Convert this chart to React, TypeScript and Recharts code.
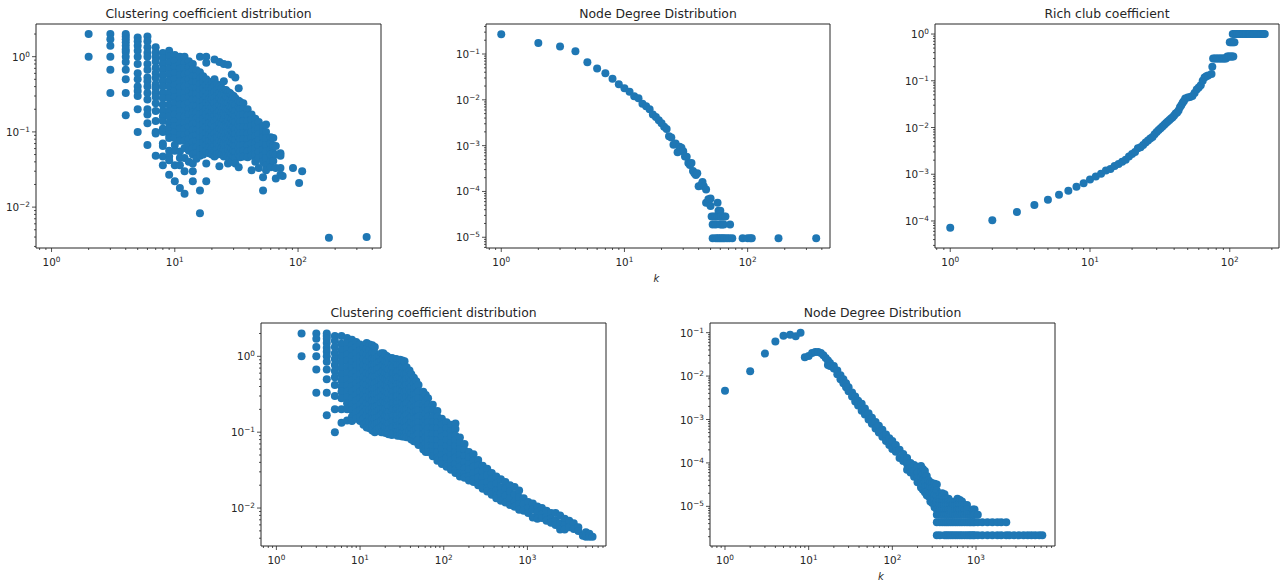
import React from 'react';
import { ScatterChart, Scatter, XAxis, YAxis, ReferenceArea } from 'recharts';

type Column = [number, number[]];

const BLUE = '#1f77b4';
const INK = '#262626';

// clustering coefficient, small graph: [degree, values seen in that column]
const clusterSmall: Column[] = [
  [2, [2, 1]],
  [3, [2, 1.7, 1.4, 1, 0.67, 0.33]],
  [4, [2, 1.85, 1.7, 1.55, 1.4, 1.25, 1.15, 1, 0.85, 0.67, 0.5, 0.33, 0.167]],
  [5, [1.8, 1.6, 1.4, 1.2, 1, 0.8, 0.6, 0.5, 0.4, 0.35, 0.3, 0.2, 0.1]],
  [6, [1.85, 1.6, 1.33, 1.13, 1, 0.8, 0.67, 0.53, 0.47, 0.4, 0.33, 0.27, 0.2, 0.17, 0.13, 0.067]],
  [7, [1.33, 1.14, 1, 0.86, 0.71, 0.6, 0.52, 0.43, 0.38, 0.33, 0.29, 0.24, 0.19, 0.14, 0.1, 0.095, 0.048]],
  [8, [1.12, 0.96, 0.8, 0.67, 0.56, 0.47, 0.4, 0.33, 0.28, 0.23, 0.19, 0.16, 0.14, 0.11, 0.1, 0.07, 0.065, 0.047, 0.036]],
  [9, [1.2, 1, 0.83, 0.69, 0.58, 0.48, 0.4, 0.33, 0.28, 0.23, 0.19, 0.16, 0.13, 0.11, 0.092, 0.083, 0.056, 0.047, 0.042, 0.027]],
  [10, [1.05, 0.87, 0.73, 0.6, 0.5, 0.42, 0.35, 0.29, 0.24, 0.2, 0.17, 0.14, 0.12, 0.1, 0.083, 0.067, 0.056, 0.036, 0.022]],
  [11, [1, 0.82, 0.69, 0.57, 0.47, 0.39, 0.33, 0.27, 0.23, 0.19, 0.16, 0.13, 0.11, 0.091, 0.076, 0.055, 0.045, 0.036, 0.018]],
  [12, [1, 0.84, 0.7, 0.58, 0.48, 0.4, 0.33, 0.28, 0.23, 0.19, 0.16, 0.13, 0.11, 0.09, 0.076, 0.061, 0.045, 0.03, 0.015]],
  [13, [0.87, 0.72, 0.6, 0.5, 0.42, 0.35, 0.29, 0.24, 0.2, 0.17, 0.14, 0.115, 0.096, 0.08, 0.067, 0.056, 0.04]],
  [14, [0.8, 0.67, 0.55, 0.46, 0.38, 0.32, 0.27, 0.22, 0.18, 0.15, 0.125, 0.105, 0.087, 0.073, 0.06, 0.05, 0.038, 0.03, 0.022]],
  [15, [0.66, 0.55, 0.46, 0.38, 0.32, 0.27, 0.22, 0.18, 0.15, 0.13, 0.105, 0.09, 0.075, 0.062, 0.052, 0.044]],
  [16, [1, 0.62, 0.51, 0.43, 0.36, 0.3, 0.25, 0.21, 0.17, 0.14, 0.12, 0.1, 0.083, 0.07, 0.058, 0.048, 0.0166, 0.0083]],
  [17, [0.55, 0.46, 0.38, 0.32, 0.26, 0.22, 0.18, 0.15, 0.125, 0.105, 0.087, 0.072, 0.06, 0.05]],
  [18, [1, 0.83, 0.5, 0.42, 0.35, 0.29, 0.24, 0.2, 0.17, 0.14, 0.116, 0.097, 0.08, 0.067, 0.056, 0.038, 0.022]],
  [19, [0.46, 0.39, 0.33, 0.27, 0.225, 0.19, 0.155, 0.13, 0.11, 0.09, 0.075, 0.063, 0.052]],
  [20, [0.46, 0.38, 0.32, 0.27, 0.22, 0.18, 0.15, 0.125, 0.105, 0.087, 0.072, 0.06, 0.05]],
  [21, [0.92, 0.5, 0.41, 0.34, 0.28, 0.24, 0.2, 0.165, 0.14, 0.115, 0.095, 0.08, 0.066, 0.055, 0.047]],
  [22, [0.43, 0.36, 0.3, 0.25, 0.21, 0.175, 0.145, 0.12, 0.1, 0.085, 0.07, 0.058, 0.05]],
  [23, [0.85, 0.4, 0.33, 0.28, 0.23, 0.19, 0.16, 0.13, 0.11, 0.092, 0.077, 0.064, 0.053, 0.035]],
  [24, [0.38, 0.31, 0.26, 0.215, 0.18, 0.15, 0.125, 0.105, 0.088, 0.073, 0.06, 0.05]],
  [25, [0.8, 0.47, 0.36, 0.3, 0.25, 0.21, 0.175, 0.145, 0.12, 0.1, 0.084, 0.07, 0.058, 0.047]],
  [26, [0.36, 0.29, 0.24, 0.2, 0.165, 0.135, 0.115, 0.095, 0.08, 0.066, 0.055, 0.048]],
  [27, [0.78, 0.34, 0.28, 0.24, 0.2, 0.165, 0.14, 0.115, 0.095, 0.08, 0.066, 0.055, 0.046, 0.038]],
  [28, [0.33, 0.27, 0.22, 0.185, 0.155, 0.13, 0.108, 0.09, 0.075, 0.062, 0.052, 0.043]],
  [29, [0.58, 0.31, 0.26, 0.21, 0.18, 0.15, 0.125, 0.105, 0.087, 0.072, 0.06, 0.05, 0.04]],
  [30, [0.3, 0.245, 0.2, 0.17, 0.14, 0.118, 0.098, 0.082, 0.068, 0.057, 0.047]],
  [31, [0.53, 0.28, 0.23, 0.19, 0.16, 0.135, 0.11, 0.093, 0.078, 0.065, 0.054, 0.045, 0.038]],
  [33, [0.38, 0.26, 0.215, 0.18, 0.15, 0.125, 0.105, 0.087, 0.072, 0.06, 0.05, 0.034]],
  [34, [0.25, 0.2, 0.165, 0.138, 0.115, 0.095, 0.08, 0.066, 0.055, 0.046]],
  [36, [0.24, 0.2, 0.17, 0.14, 0.115, 0.096, 0.08, 0.067, 0.056, 0.047]],
  [39, [0.2, 0.165, 0.14, 0.115, 0.095, 0.08, 0.066, 0.055, 0.046]],
  [42, [0.17, 0.145, 0.12, 0.1, 0.083, 0.07, 0.058, 0.048, 0.031]],
  [45, [0.15, 0.125, 0.105, 0.087, 0.072, 0.06, 0.05, 0.04]],
  [48, [0.135, 0.11, 0.093, 0.078, 0.065, 0.054, 0.045, 0.033]],
  [52, [0.12, 0.1, 0.085, 0.07, 0.058, 0.048, 0.04, 0.025, 0.0166]],
  [55, [0.125, 0.1, 0.082, 0.067, 0.055, 0.045, 0.036, 0.031]],
  [60, [0.085, 0.07, 0.058, 0.05, 0.04, 0.034]],
  [63, [0.083, 0.065, 0.052, 0.041]],
  [66, [0.065, 0.05, 0.033, 0.024]],
  [72, [0.052, 0.048, 0.033, 0.027]],
  [75, [0.026]],
  [91, [0.033]],
  [102, [0.021]],
  [108, [0.03]],
  [178, [0.0039]],
  [360, [0.004]],
];

// degree distribution, small graph
const degreeSmall: Column[] = [
  [1, [0.27]], [2, [0.175]], [3, [0.145]], [4, [0.115]], [5, [0.066]], [6, [0.048]], [7, [0.038]], [8, [0.029]],
  [9, [0.022]], [10, [0.018]], [11, [0.015]], [12, [0.012]], [13, [0.0108]], [14, [0.0082]], [15, [0.0072]],
  [16, [0.0062]], [17, [0.0048]], [18, [0.0042]], [19, [0.0036]], [20, [0.0031]], [21, [0.0026]], [22, [0.0023]],
  [23, [0.0016]], [24, [0.0015]], [25, [0.00105]], [26, [0.00112]], [27, [0.00072]], [28, [0.00095]], [29, [0.0009]],
  [30, [0.00075]], [31, [0.00058]], [32, [0.00057]], [33, [0.00042]], [34, [0.00038]], [35, [0.00042]], [36, [0.00028]],
  [37, [0.00025]], [38, [0.00023]], [39, [0.00025]], [40, [0.00013]], [42, [0.00014]], [43, [0.00016]], [44, [0.00013]],
  [46, [0.00011, 0.000057]], [48, [0.000057, 0.000068]], [50, [0.00007, 0.000048]], [51, [0.0000285]],
  [52, [0.000019, 0.0000095]], [53, [0.0000285]], [55, [0.0000285, 0.000019, 0.0000095]], [57, [0.000057, 0.0000285, 0.0000095]],
  [58, [0.000038]], [59, [0.0000285, 0.0000095]], [60, [0.000038, 0.000019]], [61, [0.0000285, 0.0000095]], [62, [0.000019]],
  [63, [0.0000095]], [64, [0.0000285, 0.000019]], [65, [0.0000095]], [66, [0.0000285]], [68, [0.0000095]], [71, [0.0000095]],
  [72, [0.000019]], [75, [0.0000095]], [91, [0.0000095]], [100, [0.0000095]], [105, [0.0000095]], [108, [0.0000095]],
  [178, [0.0000095]], [360, [0.0000095]],
];

// rich club curve
const richK = [1, 2, 3, 4, 5, 6, 7, 8, 9, 10, 11, 12, 13, 14, 15, 16, 17, 18, 19, 20, 21, 22, 23, 24, 25, 26, 27, 28, 29, 30,
  31, 32, 33, 34, 35, 36, 37, 38, 39, 40, 41, 42, 43, 44, 45, 46, 47, 48, 50, 52, 54, 56, 58, 60, 62, 64, 66, 68, 70, 74, 75,
  76, 78, 80, 82, 84, 86, 88, 90, 92, 94, 96, 98, 100, 102, 104, 106, 100, 102, 104, 106, 108,
  105, 108, 111, 114, 117, 120, 123, 126, 129, 132, 135, 138, 141, 144, 147, 150, 153, 156, 159, 162, 165, 168, 171, 174, 178];
const richPhi = [7.2e-5, 1.03e-4, 1.55e-4, 2.2e-4, 2.85e-4, 3.65e-4, 4.45e-4, 5.4e-4, 6.4e-4, 7.7e-4, 9e-4, 1.03e-3, 1.2e-3, 1.3e-3,
  1.5e-3, 1.65e-3, 1.85e-3, 2.05e-3, 2.4e-3, 2.7e-3, 3e-3, 3.6e-3, 3.8e-3, 4.2e-3, 4.8e-3, 5.3e-3, 5.8e-3, 6.3e-3, 7.2e-3, 8e-3,
  8.8e-3, 9.6e-3, 0.0105, 0.0115, 0.0125, 0.0135, 0.0145, 0.0155, 0.0165, 0.018, 0.02, 0.021, 0.023, 0.027, 0.03, 0.034, 0.037, 0.042,
  0.044, 0.045, 0.047, 0.055, 0.065, 0.072, 0.08, 0.1, 0.118, 0.125, 0.13, 0.14, 0.2,
  0.3, 0.3, 0.3, 0.3, 0.3, 0.3, 0.3, 0.3, 0.3, 0.3, 0.33, 0.33, 0.33, 0.33, 0.33, 0.33, 0.67, 0.67, 0.67, 0.67, 0.67,
  1, 1, 1, 1, 1, 1, 1, 1, 1, 1, 1, 1, 1, 1, 1, 1, 1, 1, 1, 1, 1, 1, 1, 1, 1];

// clustering coefficient, large graph
const clusterLarge: Column[] = [
  [2, [2, 1]],
  [3, [2, 1.7, 1.33, 1, 0.67, 0.33]],
  [4, [2, 1.85, 1.7, 1.5, 1.3, 1.15, 1, 0.85, 0.67, 0.5, 0.33, 0.167]],
  [5, [1.85, 1.6, 1.33, 1.1, 0.92, 0.77, 0.64, 0.53, 0.42, 0.3, 0.2, 0.1]],
  [6, [1.85, 1.46, 1.2, 1, 0.84, 0.7, 0.58, 0.48, 0.4, 0.34, 0.28, 0.2, 0.133]],
  [7, [1.75, 1.5, 1.25, 1.05, 0.88, 0.72, 0.6, 0.5, 0.42, 0.35, 0.29, 0.24, 0.2, 0.143]],
  [8, [1.66, 1.4, 1.2, 1, 0.84, 0.7, 0.58, 0.48, 0.4, 0.34, 0.28, 0.23, 0.195, 0.16, 0.14]],
  [9, [1.55, 1.33, 1.1, 0.92, 0.77, 0.64, 0.53, 0.44, 0.37, 0.31, 0.26, 0.21, 0.18, 0.15]],
  [10, [1.43, 1.2, 1, 0.84, 0.7, 0.58, 0.48, 0.4, 0.34, 0.28, 0.23, 0.195, 0.16, 0.14]],
  [11, [1.33, 1.1, 0.92, 0.77, 0.64, 0.53, 0.44, 0.37, 0.31, 0.26, 0.21, 0.18, 0.15, 0.125]],
  [12, [1.5, 1.25, 1.05, 0.88, 0.73, 0.6, 0.5, 0.42, 0.35, 0.29, 0.24, 0.2, 0.165, 0.135, 0.115]],
  [13, [1.43, 1.2, 1, 0.84, 0.7, 0.58, 0.48, 0.4, 0.34, 0.28, 0.23, 0.195, 0.16, 0.135, 0.113]],
  [14, [1.4, 1.1, 0.92, 0.77, 0.64, 0.53, 0.44, 0.37, 0.31, 0.26, 0.21, 0.18, 0.15, 0.125, 0.105]],
  [15, [1.33, 1.1, 0.92, 0.77, 0.64, 0.53, 0.44, 0.37, 0.31, 0.26, 0.21, 0.18, 0.15, 0.125, 0.1]],
  [16, [0.96, 0.8, 0.67, 0.55, 0.46, 0.385, 0.32, 0.265, 0.22, 0.185, 0.155, 0.13, 0.108]],
  [17, [1, 0.84, 0.7, 0.58, 0.48, 0.4, 0.34, 0.28, 0.23, 0.195, 0.16, 0.135, 0.113]],
  [18, [1.1, 0.88, 0.73, 0.61, 0.5, 0.42, 0.35, 0.29, 0.24, 0.2, 0.17, 0.14, 0.118, 0.1]],
  [19, [1.1, 0.92, 0.77, 0.64, 0.53, 0.44, 0.37, 0.31, 0.26, 0.21, 0.18, 0.15, 0.125, 0.1]],
  [20, [1.03, 0.87, 0.73, 0.6, 0.5, 0.42, 0.35, 0.29, 0.24, 0.2, 0.165, 0.14, 0.118, 0.098]],
  [21, [1, 0.84, 0.7, 0.58, 0.48, 0.4, 0.34, 0.28, 0.23, 0.195, 0.16, 0.135, 0.113, 0.097]],
  [22, [0.95, 0.8, 0.67, 0.55, 0.46, 0.38, 0.32, 0.265, 0.22, 0.185, 0.155, 0.128, 0.107, 0.094]],
  [24, [0.95, 0.77, 0.64, 0.53, 0.44, 0.37, 0.31, 0.26, 0.21, 0.18, 0.15, 0.125, 0.104, 0.092]],
  [25, [0.93, 0.72, 0.6, 0.5, 0.41, 0.345, 0.29, 0.24, 0.2, 0.165, 0.14, 0.116, 0.097]],
  [27, [0.92, 0.84, 0.7, 0.58, 0.48, 0.4, 0.34, 0.28, 0.23, 0.195, 0.16, 0.135, 0.113, 0.095]],
  [28, [0.9, 0.76, 0.63, 0.52, 0.43, 0.36, 0.3, 0.25, 0.205, 0.17, 0.145, 0.12, 0.1, 0.09]],
  [30, [0.9, 0.77, 0.64, 0.53, 0.44, 0.37, 0.31, 0.26, 0.21, 0.18, 0.15, 0.125, 0.104, 0.09]],
  [32, [0.88, 0.73, 0.6, 0.5, 0.415, 0.35, 0.29, 0.24, 0.2, 0.167, 0.14, 0.117, 0.097, 0.088]],
  [34, [0.86, 0.7, 0.58, 0.48, 0.4, 0.34, 0.28, 0.23, 0.195, 0.16, 0.135, 0.113, 0.095, 0.088]],
  [36, [0.72, 0.6, 0.5, 0.42, 0.35, 0.29, 0.24, 0.2, 0.17, 0.14, 0.118, 0.098, 0.086]],
  [39, [0.65, 0.53, 0.44, 0.37, 0.31, 0.26, 0.21, 0.18, 0.15, 0.125, 0.104, 0.085]],
  [41, [0.58, 0.48, 0.4, 0.335, 0.28, 0.23, 0.195, 0.16, 0.135, 0.113, 0.095, 0.08]],
  [44, [0.52, 0.44, 0.37, 0.31, 0.26, 0.21, 0.18, 0.15, 0.125, 0.104, 0.087, 0.076]],
  [47, [0.47, 0.39, 0.32, 0.27, 0.225, 0.19, 0.155, 0.13, 0.11, 0.09, 0.075]],
  [50, [0.42, 0.34, 0.28, 0.23, 0.195, 0.16, 0.135, 0.113, 0.095, 0.079, 0.068]],
  [57, [0.34, 0.28, 0.23, 0.195, 0.16, 0.135, 0.113, 0.095, 0.079, 0.066, 0.059]],
  [61, [0.31, 0.255, 0.21, 0.175, 0.146, 0.122, 0.102, 0.085, 0.071, 0.06, 0.055]],
  [65, [0.28, 0.23, 0.195, 0.16, 0.135, 0.113, 0.095, 0.079, 0.066, 0.055]],
  [74, [0.23, 0.195, 0.16, 0.135, 0.113, 0.095, 0.079, 0.066, 0.055, 0.048]],
  [84, [0.19, 0.16, 0.135, 0.113, 0.095, 0.079, 0.066, 0.055, 0.046, 0.042]],
  [95, [0.15, 0.125, 0.104, 0.087, 0.072, 0.06, 0.05, 0.042, 0.038]],
  [108, [0.135, 0.113, 0.095, 0.079, 0.066, 0.055, 0.046, 0.038, 0.035]],
  [122, [0.125, 0.104, 0.087, 0.072, 0.06, 0.05, 0.042, 0.035, 0.032]],
  [138, [0.13, 0.11, 0.09, 0.079, 0.066, 0.055, 0.046, 0.038, 0.032, 0.029]],
  [156, [0.085, 0.072, 0.06, 0.05, 0.042, 0.035, 0.029, 0.026]],
  [177, [0.07, 0.058, 0.048, 0.04, 0.033, 0.028, 0.025]],
  [200, [0.055, 0.046, 0.038, 0.032, 0.026, 0.023]],
  [227, [0.051, 0.042, 0.035, 0.029, 0.024, 0.022]],
  [258, [0.043, 0.036, 0.03, 0.025, 0.021, 0.02]],
  [292, [0.036, 0.03, 0.025, 0.021, 0.018]],
  [331, [0.033, 0.027, 0.022, 0.018, 0.0165]],
  [375, [0.029, 0.024, 0.02, 0.016, 0.015]],
  [425, [0.026, 0.021, 0.017, 0.0145, 0.0135]],
  [482, [0.024, 0.019, 0.0155, 0.0125]],
  [546, [0.022, 0.018, 0.0145, 0.0118]],
  [619, [0.02, 0.0165, 0.0135, 0.011]],
  [702, [0.019, 0.015, 0.0122, 0.0104]],
  [796, [0.017, 0.0138, 0.0112, 0.0095]],
  [902, [0.0135, 0.0112, 0.0092]],
  [1023, [0.012, 0.01, 0.0086]],
  [1160, [0.0115, 0.0095, 0.0075]],
  [1315, [0.0105, 0.0088, 0.0072]],
  [1490, [0.01, 0.0082, 0.0074]],
  [1690, [0.0092, 0.0076, 0.0068]],
  [1915, [0.0086, 0.0072, 0.0064]],
  [2170, [0.0086, 0.0068, 0.006]],
  [2460, [0.008, 0.0063, 0.0052]],
  [2790, [0.0072, 0.006, 0.0052]],
  [3160, [0.0068, 0.0056]],
  [3580, [0.0063, 0.0053]],
  [4060, [0.0056, 0.005]],
  [4600, [0.0043]],
  [5000, [0.0048, 0.0042]],
  [5500, [0.0046, 0.0042]],
  [6000, [0.0042]],
];

// degree distribution, large graph: curve then tail rows
const degreeLarge: Column[] = [
  [1, [0.0046]], [2, [0.013]], [3, [0.033]], [4, [0.063]], [5, [0.085]], [6, [0.09]], [7, [0.083]], [8, [0.1]],
  [9, [0.027]], [10, [0.029]], [11, [0.034]], [12, [0.036]], [13, [0.036]], [14, [0.034]], [15, [0.03]], [16, [0.026]],
  [17, [0.023, 0.018]], [18, [0.02, 0.017]], [20, [0.017, 0.015]], [22, [0.0135, 0.011]], [24, [0.0105, 0.0085]],
  [26, [0.0085, 0.0068]], [28, [0.0068, 0.0055]], [30, [0.0055, 0.0045]], [33, [0.0042, 0.0034]], [36, [0.0034, 0.0026]],
  [39, [0.0027, 0.0021]], [43, [0.0023, 0.0016]], [47, [0.0018, 0.0013]], [52, [0.0014, 0.001]], [57, [0.0011, 0.0008]],
  [63, [0.00088, 0.00062]], [69, [0.00072, 0.0005]], [76, [0.00058, 0.0004]], [84, [0.00045, 0.00032]], [92, [0.00037, 0.00026]],
  [100, [0.00032, 0.00021]], [110, [0.00026, 0.00018]], [122, [0.0002, 0.00013]], [135, [0.00016, 0.00011]],
  [150, [0.00013, 0.000095, 0.00007]], [165, [0.0001, 0.000075, 0.00006]], [182, [0.00009, 0.000064, 0.000048]],
  [200, [0.000082, 0.00006, 0.000045, 0.000036]], [220, [0.000085, 0.000062, 0.000045, 0.000032, 0.000027]],
  [232, [0.000072, 0.000055, 0.00004, 0.00003, 0.000024]],
  [245, [0.000065, 0.00005, 0.000038, 0.000028, 0.000021]], [258, [0.00005, 0.000038, 0.000029, 0.000022, 0.000018]],
  [270, [0.00004, 0.00003, 0.000023, 0.000017]], [285, [0.000036, 0.000028, 0.000021, 0.000016, 0.000013]],
  [300, [0.000034, 0.000026, 0.00002, 0.000015, 0.000012]], [320, [0.000033, 0.000024, 0.000018, 0.000014, 0.000011, 0.0000095]],
  [340, [0.000032, 0.000023, 0.000017, 0.000013, 0.0000107, 0.0000085, 0.0000064, 0.0000043, 0.00000215]],
  [370, [0.000019, 0.000015, 0.0000128, 0.0000107, 0.0000085, 0.0000064, 0.0000043, 0.00000215]],
  [395, [0.00002, 0.000017, 0.0000128, 0.0000107, 0.0000085, 0.0000064, 0.0000043]],
  [420, [0.000019, 0.000015, 0.0000128, 0.0000107, 0.0000085, 0.0000064, 0.0000043, 0.00000215]],
  [445, [0.000015, 0.0000128, 0.0000107, 0.0000085, 0.0000064, 0.0000043, 0.00000215]],
  [470, [0.000015, 0.0000128, 0.0000107, 0.0000085, 0.0000064, 0.0000043, 0.00000215]],
  [500, [0.000013, 0.0000107, 0.0000085, 0.0000064, 0.0000043, 0.00000215]],
  [530, [0.000012, 0.0000107, 0.0000085, 0.0000064, 0.0000043, 0.00000215]],
  [565, [0.000013, 0.0000107, 0.0000085, 0.0000064, 0.0000043, 0.00000215]],
  [600, [0.000015, 0.0000128, 0.0000107, 0.0000085, 0.0000064, 0.0000043, 0.00000215]],
  [640, [0.000014, 0.0000128, 0.0000107, 0.0000085, 0.0000064, 0.0000043, 0.00000215]],
  [680, [0.000013, 0.0000107, 0.0000085, 0.0000064, 0.0000043, 0.00000215]],
  [730, [0.0000107, 0.0000085, 0.0000064, 0.0000043, 0.00000215]],
  [780, [0.0000107, 0.0000085, 0.0000064, 0.0000043, 0.00000215]],
  [830, [0.0000064, 0.0000043, 0.00000215]],
  [870, [0.0000064, 0.0000043, 0.00000215]],
  [920, [0.0000085, 0.0000064, 0.0000043, 0.00000215]],
  [960, [0.0000085, 0.0000064, 0.0000043, 0.00000215]],
  [1050, [0.0000064, 0.0000043, 0.00000215]],
  [1190, [0.0000043, 0.00000215]], [1370, [0.0000043, 0.00000215]], [1570, [0.0000043, 0.00000215]],
  [1800, [0.0000043, 0.00000215]], [2000, [0.0000043, 0.00000215]], [2300, [0.0000043, 0.00000215]],
  [2500, [0.00000215]], [2850, [0.00000215]], [3250, [0.00000215]], [3700, [0.00000215]], [4150, [0.00000215]],
  [4600, [0.00000215]], [5100, [0.00000215]], [5700, [0.00000215]], [6200, [0.00000215]],
];

const toPoints = (cols: Column[]) => cols.flatMap(([x, ys]) => ys.map((y) => ({ x, y })));
const zipPoints = (xs: number[], ys: number[]) => xs.map((x, i) => ({ x, y: ys[i] }));

const MINOR = [2, 3, 4, 5, 6, 7, 8, 9];

function logTicks(domain: number[], decades: number[]) {
  const all: number[] = [];
  for (let d = decades[0] - 1; d <= decades[decades.length - 1] + 1; d++) {
    all.push(10 ** d);
    MINOR.forEach((m) => all.push(m * 10 ** d));
  }
  return all.filter((v) => v >= domain[0] && v <= domain[1]);
}

// "10^n" label written the way matplotlib does it
function isDecade(v: number) {
  const e = Math.log10(v);
  return Math.abs(e - Math.round(e)) < 1e-6;
}

function PowerLabel({ value, x, y, anchor }: { value: number; x: number; y: number; anchor: string }) {
  const e = Math.round(Math.log10(value));
  return (
    <text x={x} y={y} textAnchor={anchor} fontFamily="DejaVu Sans" fontSize={10.4} fill={INK}>
      10<tspan dy={-4} fontSize={7.3}>{e < 0 ? `\u2212${-e}` : e}</tspan>
    </text>
  );
}

function XTick({ x, y, payload }: any) {
  const major = isDecade(payload.value);
  return (
    <g>
      <line x1={x} x2={x} y1={y} y2={y + (major ? 4 : 2)} stroke={INK} strokeWidth={0.8} />
      {major && <PowerLabel value={payload.value} x={x} y={y + 18} anchor="middle" />}
    </g>
  );
}

function YTick({ x, y, payload }: any) {
  const major = isDecade(payload.value);
  return (
    <g>
      <line x1={x} x2={x - (major ? 4 : 2)} y1={y} y2={y} stroke={INK} strokeWidth={0.8} />
      {major && <PowerLabel value={payload.value} x={x - 6} y={y + 4} anchor="end" />}
    </g>
  );
}

const Dot = (props: any) => <circle cx={props.cx} cy={props.cy} r={4} fill={BLUE} />;

interface PanelProps {
  title: string;
  left: number;
  top: number;
  plotW: number;
  plotH: number;
  xDomain: number[];
  yDomain: number[];
  xDecades: number[];
  yDecades: number[];
  points: { x: number; y: number }[];
  showK?: boolean;
}

function Panel({ title, left, top, plotW, plotH, xDomain, yDomain, xDecades, yDecades, points, showK }: PanelProps) {
  const padL = 50;
  const padT = 24;
  const padB = 36;
  const padR = 2;
  return (
    <div style={{ position: 'absolute', left: left - padL, top: top - padT }}>
      <ScatterChart
        width={plotW + padL + padR}
        height={plotH + padT + padB}
        margin={{ top: padT, right: padR, bottom: 0, left: 0 }}
      >
        <XAxis
          type="number"
          dataKey="x"
          scale="log"
          domain={xDomain}
          allowDataOverflow
          ticks={logTicks(xDomain, xDecades)}
          interval={0}
          height={padB}
          tick={<XTick />}
          tickLine={false}
          axisLine={false}
          tickSize={0}
          tickMargin={0}
        />
        <YAxis
          type="number"
          dataKey="y"
          scale="log"
          domain={yDomain}
          allowDataOverflow
          ticks={logTicks(yDomain, yDecades)}
          interval={0}
          width={padL}
          tick={<YTick />}
          tickLine={false}
          axisLine={false}
          tickSize={0}
          tickMargin={0}
        />
        <Scatter data={points} shape={Dot} isAnimationActive={false} />
        <ReferenceArea
          x1={xDomain[0]}
          x2={xDomain[1]}
          y1={yDomain[0]}
          y2={yDomain[1]}
          fill="none"
          fillOpacity={0}
          stroke={INK}
          strokeWidth={1}
          strokeOpacity={1}
        />
        <text x={padL + plotW / 2} y={padT - 6} textAnchor="middle" fontFamily="DejaVu Sans" fontSize={12.4} fill={INK}>
          {title}
        </text>
        {showK && (
          <text
            x={padL + plotW / 2 - 1.5}
            y={padT + plotH + 34}
            textAnchor="middle"
            fontFamily="DejaVu Sans"
            fontStyle="italic"
            fontSize={10}
            fill={INK}
          >
            k
          </text>
        )}
      </ScatterChart>
    </div>
  );
}

export default function App() {
  return (
    <div style={{ position: 'absolute', left: 0, top: 0, width: 1281, height: 582, overflow: 'hidden', background: '#fff' }}>
      <Panel
        title="Clustering coefficient distribution"
        left={36}
        top={24}
        plotW={345}
        plotH={224}
        xDomain={[0.748, 471]}
        yDomain={[0.00286, 2.72]}
        xDecades={[0, 1, 2]}
        yDecades={[-2, -1, 0]}
        points={toPoints(clusterSmall)}
      />
      <Panel
        title="Node Degree Distribution"
        left={486}
        top={24}
        plotW={344}
        plotH={224}
        xDomain={[0.752, 466]}
        yDomain={[5.83e-6, 0.452]}
        xDecades={[0, 1, 2]}
        yDecades={[-5, -4, -3, -2, -1]}
        points={toPoints(degreeSmall)}
        showK
      />
      <Panel
        title="Rich club coefficient"
        left={935}
        top={24}
        plotW={344}
        plotH={224}
        xDomain={[0.778, 225]}
        yDomain={[2.64e-5, 1.64]}
        xDecades={[0, 1, 2]}
        yDecades={[-4, -3, -2, -1, 0]}
        points={zipPoints(richK, richPhi)}
      />
      <Panel
        title="Clustering coefficient distribution"
        left={261}
        top={323}
        plotW={345}
        plotH={223}
        xDomain={[0.655, 8690]}
        yDomain={[0.00316, 2.75]}
        xDecades={[0, 1, 2, 3]}
        yDecades={[-2, -1, 0]}
        points={toPoints(clusterLarge)}
      />
      <Panel
        title="Node Degree Distribution"
        left={710}
        top={323}
        plotW={345}
        plotH={223}
        xDomain={[0.662, 8790]}
        yDomain={[1.22e-6, 0.167]}
        xDecades={[0, 1, 2, 3]}
        yDecades={[-5, -4, -3, -2, -1]}
        points={toPoints(degreeLarge)}
        showK
      />
    </div>
  );
}
